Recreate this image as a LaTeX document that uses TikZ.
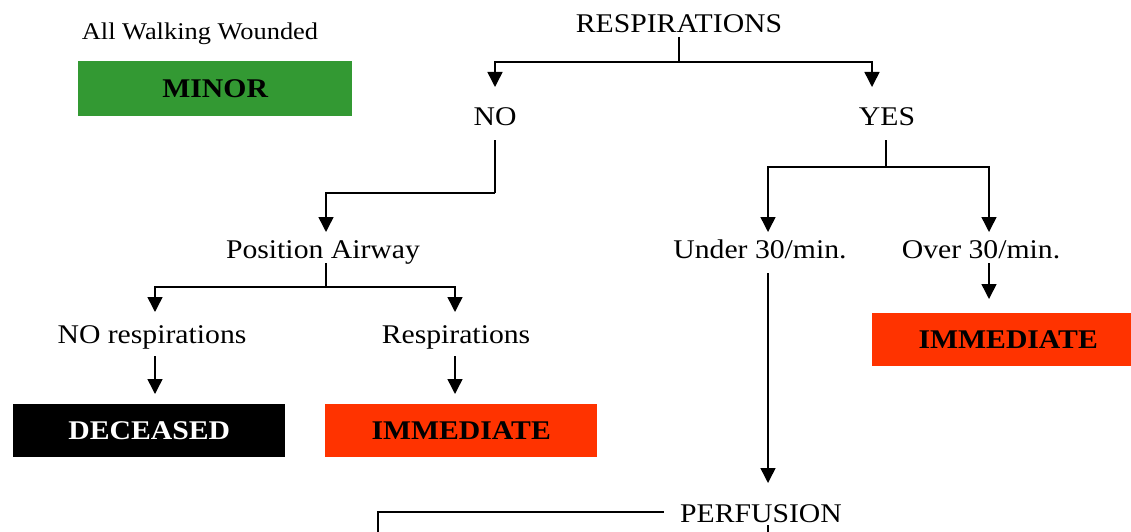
\documentclass[tikz,border=0pt]{standalone}
\usepackage{fontspec}
\setmainfont[FakeStretch=1.1]{Liberation Serif}
\usetikzlibrary{arrows.meta}
\definecolor{minorg}{HTML}{339933}
\definecolor{immo}{HTML}{FF3300}
\begin{document}
\begin{tikzpicture}[x=1pt,y=-1pt,
  lbl/.style={font=\fontsize{27}{30}\selectfont, inner sep=0pt, anchor=base},
  small/.style={font=\fontsize{24}{27}\selectfont, inner sep=0pt, anchor=base},
  cat/.style={minimum width=272pt, minimum height=53pt, inner sep=0pt, anchor=north west,
              font=\fontsize{27}{30}\selectfont\bfseries},
  link/.style={line width=1.5pt},
  arr/.style={link, -{Triangle[length=15pt,width=15pt]}},
]
\useasboundingbox (0,0) rectangle (1131,532);
\clip (0,0) rectangle (1131,532);

% nodes
\node[small] (walk) at (200,40) {All Walking Wounded};
\node[cat, fill=minorg, text=black, minimum width=274pt, minimum height=55pt] (minor) at (78,61) {MINOR};
\node[lbl] (resp) at (679,33) {RESPIRATIONS};
\node[lbl] (no) at (495,125) {NO};
\node[lbl] (yes) at (887,125) {YES};
\node[lbl] (pos) at (323,258) {Position Airway};
\node[lbl] (norsp) at (152,343) {NO respirations};
\node[lbl] (rsp) at (456,343) {Respirations};
\node[cat, fill=black, text=white] (dec) at (13,404) {DECEASED};
\node[cat, fill=immo, text=black] (imm1) at (325,404) {IMMEDIATE};
\node[lbl] (under) at (760,258) {Under 30/min.};
\node[lbl] (over) at (981,258) {Over 30/min.};
\node[cat, fill=immo, text=black] (imm2) at (872,313) {IMMEDIATE};
\node[lbl] (perf) at (761,522) {PERFUSION};

% junction and tip coordinates
\coordinate (jr) at (679,62);
\coordinate (tNo) at (495,87);
\coordinate (tYes) at (872,87);
\coordinate (jn) at (495,193);
\coordinate (tPos) at (326,232);
\coordinate (jp) at (326,287);
\coordinate (tNoR) at (155,312);
\coordinate (tR) at (455,312);
\coordinate (tDec) at (155,394);
\coordinate (tImm1) at (455,394);
\coordinate (jy) at (886,167);
\coordinate (tUnder) at (768,232);
\coordinate (tOver) at (989,232);
\coordinate (tImm2) at (989,299);
\coordinate (tPerf) at (768,483);
\coordinate (pl) at (378,512);
\coordinate (pd) at (378,540);
\coordinate (pb) at (768,540);

% connectors
\draw[link] ([yshift=-4pt]resp.base) -- (jr);
\draw[arr] (jr) -| (tNo);
\draw[arr] (jr) -| (tYes);

\draw[link] (495,140) -- (jn);
\draw[arr] (jn) -| (tPos);

\draw[link] (326,263) -- (jp);
\draw[arr] (jp) -| (tNoR);
\draw[arr] (jp) -| (tR);
\draw[arr] (155,356) -- (tDec);
\draw[arr] (455,356) -- (tImm1);

\draw[link] (886,140) -- (jy);
\draw[arr] (jy) -| (tUnder);
\draw[arr] (jy) -| (tOver);
\draw[arr] (989,263) -- (tImm2);
\draw[arr] (768,273) -- (tPerf);

\draw[link] ([xshift=-16pt]perf.west |- pl) -- (pl) -- (pd);
\draw[link] (768,525) -- (pb);
\end{tikzpicture}
\end{document}
